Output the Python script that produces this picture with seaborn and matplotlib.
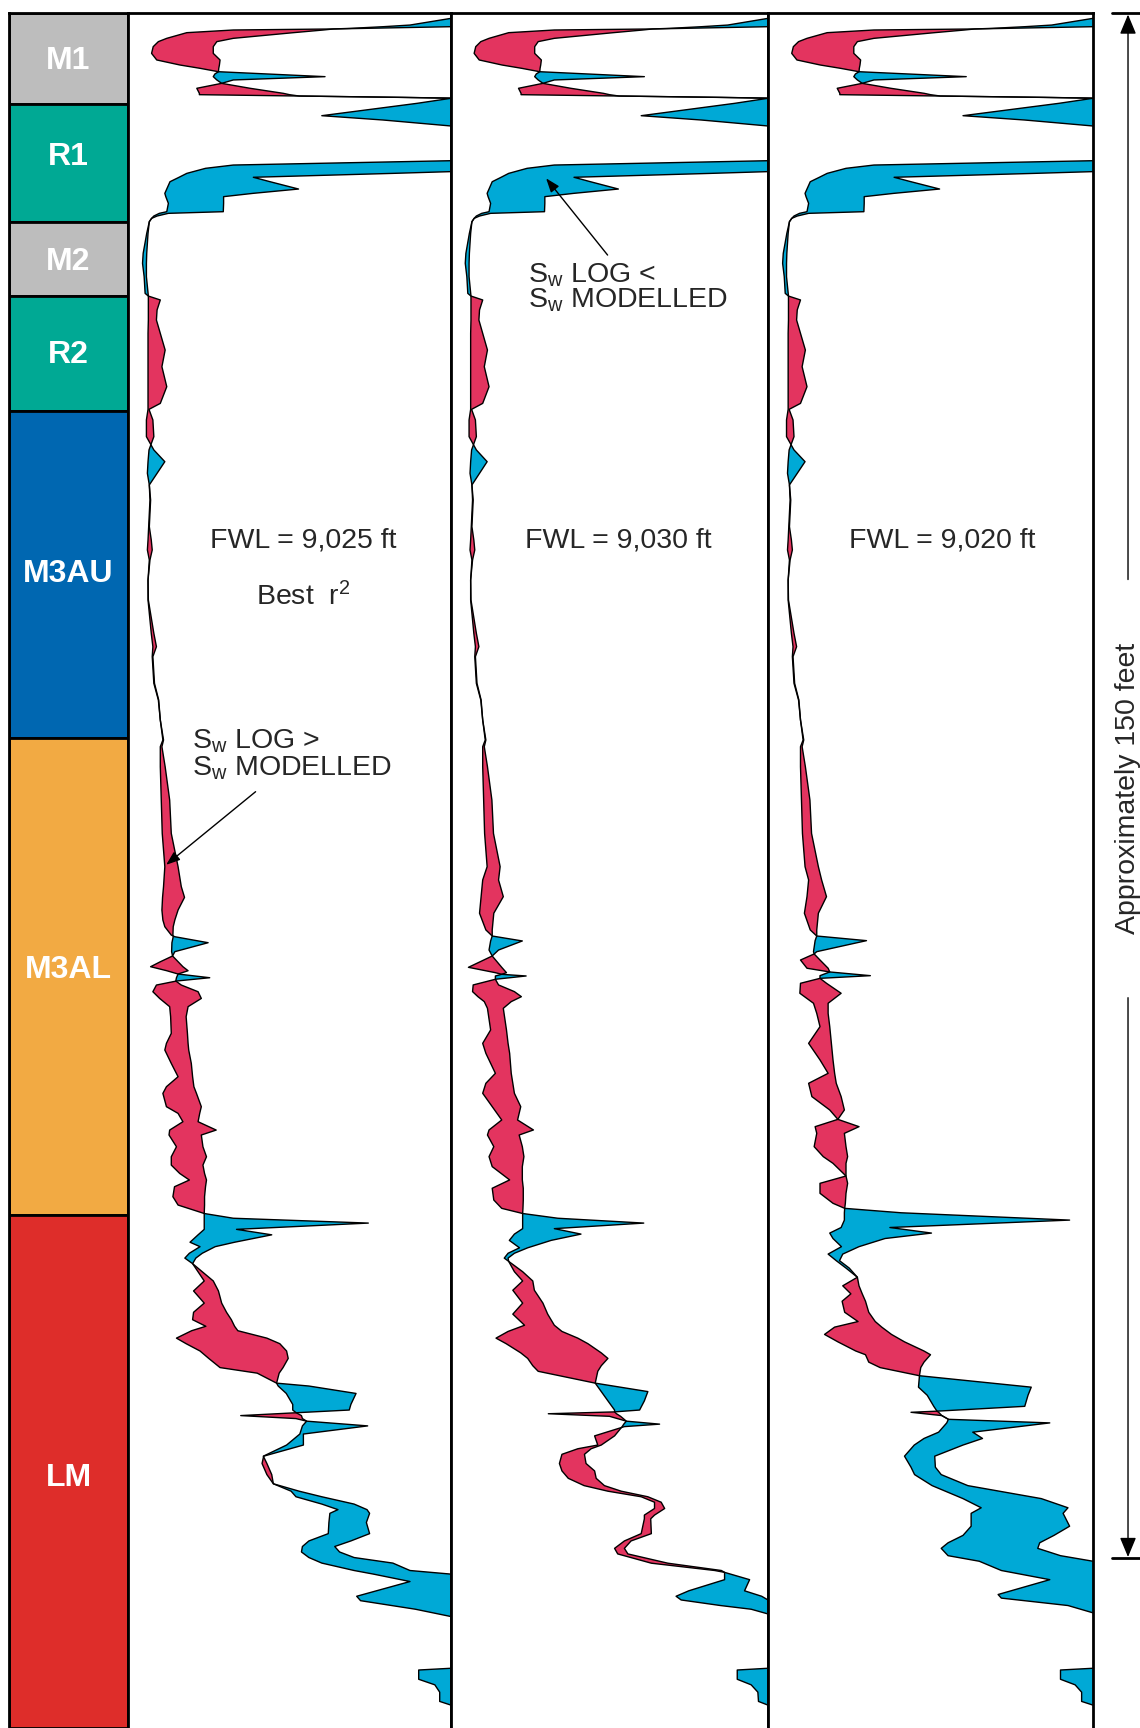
import matplotlib
matplotlib.use("Agg")
import numpy as np
import matplotlib.pyplot as plt
import seaborn as sns

# ---- zones (depth in ft below top of M1) ----
zone_names = ["M1", "R1", "M2", "R2", "M3AU", "M3AL", "LM"]
zone_tops = [0.0, 8.83, 20.29, 27.48, 38.64, 70.39, 116.7]
zone_bases = [8.83, 20.29, 27.48, 38.64, 70.39, 116.7, 166.5]
zone_label_depth = [4.41, 13.72, 23.89, 32.88, 54.18, 92.61, 141.95]
zone_colors = ["#BDBDBD", "#00A994", "#BDBDBD", "#00A994", "#0067B1", "#F2AA43", "#DE2D2A"]

fwl_labels = ["FWL = 9,025 ft", "FWL = 9,030 ft", "FWL = 9,020 ft"]

# ---- shared upper part of the tracks (M1 .. M3AU / top M3AL) ----
depth_top = [0.0, 0.52, 1.17, 1.33, 1.49, 1.55, 1.65, 1.91, 2.46, 2.78, 3.27, 3.92, 4.56, 5.05,
             5.37, 5.70, 5.92, 6.18, 6.50, 6.83, 7.31, 7.80, 7.93, 8.06, 8.19, 8.28, 8.77, 9.97,
             10.39, 10.97, 11.2, 14.21, 14.34, 14.76, 15.08, 15.40, 15.57, 15.95, 16.38, 17.09,
             17.51, 17.83, 18.48, 19.29, 19.45, 19.71, 19.94, 20.26, 21.39, 23.33, 24.30, 25.60,
             27.22, 27.48, 27.86, 28.83, 29.81, 31.10, 32.72, 34.34, 36.28, 37.90, 38.48, 39.51,
             41.13, 42.42, 43.56, 44.69, 45.82, 47.28, 49.87, 51.16, 52.13, 53.1, 55.05, 56.99,
             60.22, 61.52, 62.49, 65.08, 66.7, 68.64, 70.58, 71.23, 73.17, 76.41, 79.65, 82.88]
sw_log_top = [1.05, 1.0, 0.873, 0.79, 0.69, 0.636, 0.605, 0.512, 0.326, 0.275, 0.264, 0.264, 0.285,
              0.283, 0.281, 0.280, 0.269, 0.264, 0.275, 0.29, 0.378, 0.481, 0.50, 0.53, 0.85, 1.0,
              0.895, 0.60, 0.79, 1.0, 1.05, 1.05, 1.0, 0.326, 0.24, 0.202, 0.182, 0.158, 0.130,
              0.12, 0.114, 0.117, 0.125, 0.12, 0.097, 0.08, 0.073, 0.066, 0.058, 0.047, 0.045, 0.05,
              0.053, 0.063, 0.10, 0.09, 0.088, 0.10, 0.115, 0.105, 0.12, 0.10, 0.065, 0.077, 0.08,
              0.065, 0.062, 0.06, 0.066, 0.07, 0.066, 0.072, 0.075, 0.068, 0.062, 0.063, 0.08,
              0.088, 0.077, 0.082, 0.095, 0.10, 0.11, 0.105, 0.115, 0.129, 0.134, 0.155]
sw_mod_top = [1.05, 1.05, 1.05, 1.0, 0.74, 0.636, 0.326, 0.182, 0.12, 0.094, 0.078, 0.073, 0.089,
              0.161, 0.223, 0.280, 0.429, 0.61, 0.326, 0.29, 0.213, 0.221, 0.221, 0.53, 0.85, 1.05,
              1.05, 1.05, 1.05, 1.05, 1.05, 1.05, 1.05, 1.05, 1.05, 1.0, 0.82, 0.388, 0.44, 0.528,
              0.387, 0.296, 0.296, 0.295, 0.125, 0.09, 0.073, 0.066, 0.062, 0.058, 0.057, 0.057,
              0.062, 0.063, 0.063, 0.063, 0.063, 0.062, 0.062, 0.062, 0.062, 0.062, 0.062, 0.057,
              0.057, 0.08, 0.114, 0.09, 0.066, 0.068, 0.064, 0.062, 0.06, 0.066, 0.062, 0.062,
              0.072, 0.077, 0.075, 0.08, 0.094, 0.10, 0.108, 0.10, 0.10, 0.103, 0.106, 0.114]

# ---- track 1: FWL 9,025 ft ----
depth_p1 = [84.82, 85.86, 87.09, 88.06, 88.71, 89.52, 89.68, 90.26, 91.13, 91.55, 92.11, 92.59,
            92.98, 93.3, 93.66, 93.98, 94.37, 95.02, 95.67, 96.47, 97.45, 99.06, 100.03, 100.68,
            101.98, 103.27, 104.24, 104.89, 106.18, 106.83, 107.64, 108.45, 108.93, 110.07,
            111.04, 111.85, 112.66, 113.3, 113.95, 114.92, 115.73, 116.55, 117.01, 117.48, 118.09,
            118.62, 119.34, 119.77, 120.41, 120.88, 121.42, 123.1, 124.07, 125.25, 126.14, 126.86,
            127.5, 127.93, 128.65, 129.19, 129.9, 130.62, 131.51, 132.05, 133.02, 133.3, 134.02,
            135.09, 135.63, 135.88, 136.17, 136.46, 136.71, 137.17, 137.96, 139.03, 140.11,
            140.82, 141.9, 142.79, 143.51, 144.05, 144.76, 145.3, 145.66, 146.55, 147.63, 148.34,
            148.88, 149.41, 149.95, 150.49, 151.21, 151.56, 152.28, 153.71, 154.14, 154.97,
            155.68, 156.04, 160.52, 160.7, 160.87, 161.77, 162.31, 163.02, 163.92, 164.28,
            164.63, 166.5]
sw_log_p1 = [0.165, 0.175, 0.155, 0.145, 0.14, 0.139, 0.14, 0.136, 0.135, 0.138, 0.155, 0.17,
             0.186, 0.155, 0.15, 0.148, 0.165, 0.217, 0.227, 0.186, 0.18, 0.184, 0.186, 0.188,
             0.196, 0.2, 0.204, 0.212, 0.227, 0.222, 0.217, 0.273, 0.227, 0.232, 0.243, 0.232,
             0.237, 0.243, 0.24, 0.237, 0.237, 0.236, 0.236, 0.236, 0.236, 0.217, 0.192, 0.223,
             0.19, 0.176, 0.2, 0.264, 0.28, 0.29, 0.305, 0.32, 0.33, 0.34, 0.43, 0.47, 0.491,
             0.496, 0.48, 0.468, 0.46, 0.465, 0.49, 0.51, 0.51, 0.52, 0.537, 0.54, 0.553, 0.54,
             0.532, 0.491, 0.419, 0.43, 0.445, 0.45, 0.505, 0.52, 0.6, 0.65, 0.625, 0.622, 0.62,
             0.56, 0.54, 0.537, 0.56, 0.6, 0.7, 0.76, 0.873, 0.708, 0.72, 0.89, 1.0, 1.05, 1.05,
             1.0, 0.9, 0.9, 0.95, 0.965, 0.965, 1.0, 1.05, 1.05]
sw_mod_p1 = [0.11, 0.107, 0.105, 0.108, 0.114, 0.134, 0.145, 0.248, 0.145, 0.138, 0.10, 0.07,
             0.12, 0.155, 0.253, 0.15, 0.088, 0.077, 0.098, 0.129, 0.132, 0.134, 0.119, 0.114,
             0.134, 0.155, 0.119, 0.108, 0.119, 0.155, 0.17, 0.129, 0.127, 0.15, 0.134, 0.134,
             0.16, 0.19, 0.144, 0.139, 0.155, 0.236, 0.326, 0.744, 0.336, 0.445, 0.33, 0.27, 0.23,
             0.21, 0.2, 0.236, 0.203, 0.236, 0.203, 0.2, 0.241, 0.197, 0.15, 0.18, 0.223, 0.25,
             0.285, 0.4, 0.46, 0.56, 0.706, 0.69, 0.685, 0.53, 0.349, 0.52, 0.553, 0.742, 0.543,
             0.543, 0.42, 0.415, 0.43, 0.45, 0.53, 0.6, 0.7, 0.74, 0.748, 0.738, 0.748, 0.69,
             0.64, 0.655, 0.7, 0.82, 0.873, 1.0, 1.05, 1.05, 1.05, 1.05, 1.05, 1.05, 1.05, 1.05,
             1.05, 1.05, 1.05, 1.05, 1.05, 1.05, 1.05, 1.05]

# ---- track 2: FWL 9,030 ft ----
depth_p2 = [84.17, 85.79, 87.4, 89.02, 89.61, 90.09, 90.97, 91.55, 92.65, 93.17, 93.33, 93.49,
            93.81, 94.36, 95.01, 95.5, 95.98, 96.63, 98.73, 100.03, 101.0, 102.94, 103.91,
            104.88, 106.18, 107.47, 108.44, 108.93, 110.06, 111.03, 112.0, 113.29, 114.1,
            115.24, 116.05, 116.55, 117.01, 117.48, 118.02, 118.55, 119.16, 119.88, 120.41,
            120.88, 121.2, 122.2, 123.1, 124.0, 125.25, 126.32, 127.4, 128.0, 128.65, 129.19,
            130.08, 130.62, 131.33, 131.87, 133.02, 133.84, 134.74, 135.63, 135.81, 135.99,
            136.24, 136.71, 137.0, 137.24, 138.14, 139.03, 139.39, 139.93, 140.82, 141.54,
            142.26, 142.97, 143.51, 144.05, 144.58, 145.19, 145.83, 146.19, 147.63, 148.34,
            149.06, 149.6, 150.5, 151.21, 151.39, 152.1, 153.18, 153.71, 154.07, 154.61, 154.97,
            155.43, 155.86, 160.52, 160.7, 160.87, 161.77, 162.31, 163.02, 163.92, 164.28,
            164.63, 166.5]
sw_log_p2 = [0.15, 0.165, 0.135, 0.13, 0.13, 0.125, 0.12, 0.13, 0.16, 0.175, 0.16, 0.14, 0.14,
             0.15, 0.2, 0.222, 0.19, 0.165, 0.175, 0.18, 0.185, 0.19, 0.195, 0.2, 0.22, 0.21,
             0.26, 0.215, 0.225, 0.23, 0.225, 0.225, 0.228, 0.228, 0.227, 0.226, 0.226, 0.226,
             0.226, 0.2, 0.184, 0.216, 0.18, 0.168, 0.182, 0.226, 0.258, 0.263, 0.29, 0.305,
             0.326, 0.35, 0.4, 0.432, 0.474, 0.495, 0.474, 0.463, 0.455, 0.474, 0.495, 0.516,
             0.516, 0.522, 0.535, 0.553, 0.545, 0.54, 0.516, 0.474, 0.442, 0.421, 0.426, 0.453,
             0.458, 0.484, 0.537, 0.621, 0.663, 0.674, 0.642, 0.63, 0.632, 0.568, 0.547, 0.558,
             0.684, 0.853, 0.863, 0.863, 0.75, 0.71, 0.726, 0.85, 0.947, 1.0, 1.05, 1.05, 1.0,
             0.903, 0.903, 0.947, 0.968, 0.97, 1.0, 1.05, 1.05]
sw_mod_p2 = [0.10, 0.095, 0.09, 0.11, 0.13, 0.225, 0.15, 0.13, 0.055, 0.14, 0.16, 0.237, 0.14,
             0.07, 0.068, 0.085, 0.105, 0.115, 0.125, 0.10, 0.11, 0.14, 0.11, 0.10, 0.13, 0.16,
             0.12, 0.115, 0.135, 0.12, 0.13, 0.185, 0.13, 0.135, 0.16, 0.226, 0.337, 0.608,
             0.326, 0.41, 0.316, 0.242, 0.2, 0.18, 0.182, 0.2, 0.226, 0.195, 0.226, 0.195, 0.232,
             0.18, 0.142, 0.174, 0.22, 0.242, 0.258, 0.275, 0.455, 0.621, 0.61, 0.595, 0.516,
             0.307, 0.5, 0.553, 0.658, 0.547, 0.453, 0.463, 0.4, 0.35, 0.342, 0.35, 0.37, 0.42,
             0.495, 0.6, 0.642, 0.642, 0.61, 0.61, 0.6, 0.547, 0.516, 0.526, 0.632, 0.832, 0.863,
             0.942, 0.926, 0.98, 1.0, 1.05, 1.05, 1.05, 1.05, 1.05, 1.05, 1.05, 1.05, 1.05, 1.05,
             1.05, 1.05, 1.05, 1.05]

# ---- track 3: FWL 9,020 ft ----
depth_p3 = [84.17, 85.79, 87.4, 89.02, 89.61, 90.06, 91.13, 91.35, 91.94, 92.74, 93.1, 93.46,
            93.72, 94.2, 95.17, 96.14, 97.12, 98.41, 100.03, 101.64, 102.94, 103.91, 105.2,
            106.5, 107.41, 108.12, 108.77, 110.06, 111.03, 111.68, 112.91, 113.62, 114.59,
            115.56, 116.05, 116.48, 117.19, 117.91, 118.45, 118.98, 119.77, 120.49, 121.13,
            121.85, 122.74, 123.57, 124.35, 125.07, 126.14, 127.04, 127.58, 128.29, 129.01,
            129.9, 130.26, 130.98, 131.51, 132.3, 133.41, 134.2, 135.27, 135.74, 135.85, 136.17,
            136.53, 136.88, 137.78, 138.39, 139.03, 140.11, 141.18, 141.9, 142.97, 144.23,
            145.12, 145.66, 146.91, 147.8, 148.52, 149.06, 149.77, 150.31, 151.21, 152.1, 153.54,
            153.89, 154.61, 155.32, 155.68, 160.52, 160.7, 160.87, 161.77, 162.31, 163.02,
            163.92, 164.28, 164.63, 166.5]
sw_log_p3 = [0.165, 0.18, 0.155, 0.15, 0.15, 0.145, 0.14, 0.142, 0.16, 0.185, 0.19, 0.16, 0.16,
             0.18, 0.225, 0.185, 0.185, 0.19, 0.195, 0.2, 0.205, 0.21, 0.225, 0.235, 0.215, 0.28,
             0.235, 0.24, 0.245, 0.24, 0.24, 0.245, 0.24, 0.238, 0.236, 0.235, 0.235, 0.225, 0.19,
             0.2, 0.226, 0.185, 0.21, 0.24, 0.275, 0.28, 0.29, 0.3, 0.31, 0.33, 0.35, 0.38, 0.42,
             0.48, 0.5, 0.48, 0.47, 0.466, 0.463, 0.49, 0.51, 0.52, 0.525, 0.535, 0.555, 0.55,
             0.525, 0.48, 0.45, 0.42, 0.44, 0.451, 0.505, 0.6, 0.656, 0.625, 0.625, 0.6, 0.554,
             0.533, 0.554, 0.65, 0.718, 0.867, 0.708, 0.718, 0.923, 1.0, 1.05, 1.05, 1.0, 0.9,
             0.9, 0.945, 0.965, 0.965, 1.0, 1.05, 1.05]
sw_mod_p3 = [0.125, 0.12, 0.112, 0.13, 0.15, 0.303, 0.15, 0.142, 0.10, 0.12, 0.19, 0.315, 0.16,
             0.10, 0.098, 0.14, 0.15, 0.16, 0.125, 0.16, 0.185, 0.125, 0.135, 0.19, 0.215, 0.145,
             0.15, 0.142, 0.17, 0.2, 0.24, 0.16, 0.16, 0.2, 0.236, 0.41, 0.928, 0.375, 0.503,
             0.36, 0.28, 0.23, 0.22, 0.25, 0.275, 0.23, 0.255, 0.228, 0.236, 0.277, 0.205, 0.174,
             0.215, 0.27, 0.3, 0.31, 0.345, 0.466, 0.81, 0.8, 0.79, 0.52, 0.44, 0.535, 0.555,
             0.867, 0.63, 0.66, 0.6, 0.513, 0.515, 0.533, 0.615, 0.841, 0.923, 0.908, 0.928, 0.88,
             0.836, 0.83, 0.9, 1.0, 1.05, 1.05, 1.05, 1.05, 1.05, 1.05, 1.05, 1.05, 1.05, 1.05,
             1.05, 1.05, 1.05, 1.05, 1.05, 1.05, 1.05]

RED = "#E3345F"
BLUE = "#00A9D6"
DEPTH_MAX = 166.5

sns.set_theme(style="white")
plt.rcParams["font.family"] = ["Liberation Sans", "DejaVu Sans"]
plt.rcParams["mathtext.fontset"] = "custom"
plt.rcParams["mathtext.rm"] = "Liberation Sans"
plt.rcParams["mathtext.it"] = "Liberation Sans:italic"
plt.rcParams["mathtext.bf"] = "Liberation Sans:bold"

W, H = 1140, 1728
fig = plt.figure(figsize=(W / 100, H / 100), dpi=100)
top = 1 - 13 / H


def frame(ax):
    ax.set_xticks([])
    ax.set_yticks([])
    ax.set_xlabel("")
    ax.set_ylabel("")
    for side in ["left", "right", "top"]:
        ax.spines[side].set_visible(True)
        ax.spines[side].set_color("black")
        ax.spines[side].set_linewidth(2.0)
    ax.spines["bottom"].set_visible(False)


# zone column
ax_z = fig.add_axes([9 / W, 0, 119 / W, top])
for name, t, b, c, yl in zip(zone_names, zone_tops, zone_bases, zone_colors, zone_label_depth):
    ax_z.bar(0.5, b - t, bottom=t, width=1.0, color=c, edgecolor="black", linewidth=2.0)
    # baseline sits half a cap height below the label centre
    ax_z.text(0.5, yl + 1.07, name, color="white", fontsize=23, fontweight="bold",
              ha="center", va="baseline")
ax_z.set_xlim(0, 1)
ax_z.set_ylim(DEPTH_MAX, 0)
frame(ax_z)

tracks = [
    (128, 323, np.r_[depth_top, depth_p1], np.r_[sw_log_top, sw_log_p1], np.r_[sw_mod_top, sw_mod_p1]),
    (451, 317, np.r_[depth_top, depth_p2], np.r_[sw_log_top, sw_log_p2], np.r_[sw_mod_top, sw_mod_p2]),
    (768, 325, np.r_[depth_top, depth_p3], np.r_[sw_log_top, sw_log_p3], np.r_[sw_mod_top, sw_mod_p3]),
]
fwl_x = [0.543, 0.528, 0.535]

axes = []
for i, (x0, w, depth, sw_log, sw_mod) in enumerate(tracks):
    ax = fig.add_axes([x0 / W, 0, w / W, top])
    ax.fill_betweenx(depth, sw_log, sw_mod, where=sw_log >= sw_mod, interpolate=True,
                     color=RED, linewidth=0)
    ax.fill_betweenx(depth, sw_log, sw_mod, where=sw_log <= sw_mod, interpolate=True,
                     color=BLUE, linewidth=0)
    sns.lineplot(x=sw_log, y=depth, orient="y", sort=False, estimator=None,
                 color="black", linewidth=1.0, ax=ax)
    sns.lineplot(x=sw_mod, y=depth, orient="y", sort=False, estimator=None,
                 color="black", linewidth=1.0, ax=ax)
    ax.set_xlim(0, 1)
    ax.set_ylim(DEPTH_MAX, 0)
    frame(ax)
    ax.text(fwl_x[i], 51.9, fwl_labels[i], fontsize=20.5, ha="center", va="baseline")
    axes.append(ax)

ax1, ax2, ax3 = axes
ax1.text(0.543, 57.5, r"Best  r$^{2}$", fontsize=20.5, ha="center", va="baseline")

arrow_kw = dict(arrowstyle="-|>,head_length=0.6,head_width=0.22", color="black",
                linewidth=1.0, mutation_scale=14, shrinkA=0, shrinkB=0)
ax1.text(0.198, 71.4, r"S$_{\mathrm{w}}$ LOG >", fontsize=20.5, ha="left", va="baseline")
ax1.text(0.198, 74.0, r"S$_{\mathrm{w}}$ MODELLED", fontsize=20.5, ha="left", va="baseline")
ax1.annotate("", xy=(0.118, 82.7), xytext=(0.395, 75.6), arrowprops=arrow_kw)

ax2.text(0.242, 26.2, r"S$_{\mathrm{w}}$ LOG <", fontsize=20.5, ha="left", va="baseline")
ax2.text(0.242, 28.6, r"S$_{\mathrm{w}}$ MODELLED", fontsize=20.5, ha="left", va="baseline")
ax2.annotate("", xy=(0.30, 16.05), xytext=(0.494, 23.5), arrowprops=arrow_kw)

# scale bar on the right
ax_n = fig.add_axes([1093 / W, 0, 47 / W, top])
ax_n.set_xlim(0, 1)
ax_n.set_ylim(DEPTH_MAX, 0)
ax_n.axis("off")
big_arrow = dict(arrowstyle="-|>,head_length=0.6,head_width=0.25", color="black",
                 linewidth=1.0, mutation_scale=20, shrinkA=0, shrinkB=0)
ax_n.annotate("", xy=(0.745, 0.15), xytext=(0.745, 55.0), arrowprops=big_arrow)
ax_n.annotate("", xy=(0.745, 149.9), xytext=(0.745, 95.6), arrowprops=big_arrow)
ax_n.plot([0.40, 1.0], [0.0, 0.0], color="black", linewidth=2.0, clip_on=False)
ax_n.plot([0.40, 1.0], [150.0, 150.0], color="black", linewidth=2.0, clip_on=False)
ax_n.text(0.745, 75.3, "Approximately 150 feet", rotation=90, fontsize=20.5,
          ha="center", va="center")

fig.savefig("out.png", dpi=100)
